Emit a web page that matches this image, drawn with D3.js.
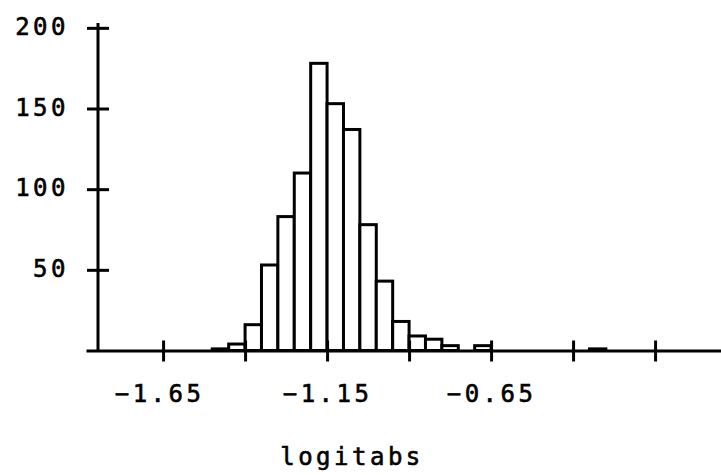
<!DOCTYPE html>
<html>
<head>
<meta charset="utf-8">
<script src="https://cdn.jsdelivr.net/npm/d3@7"></script>
<style>
  html, body { margin: 0; padding: 0; background: #fff; }
  svg { display: block; }
  text { font-family: "DejaVu Sans Mono", monospace; font-size: 24px; letter-spacing: 3.5px; fill: #000; stroke: #000; stroke-width: 0.6px; }
</style>
</head>
<body>
<svg id="chart" width="721" height="475"></svg>
<script>
// Histogram of logitabs, bin width 0.05 (bin start values)
const binStarts = [-1.5, -1.45, -1.4, -1.35, -1.3, -1.25, -1.2, -1.15, -1.1, -1.05, -1.0, -0.95,
                   -0.9, -0.85, -0.8, -0.75, -0.7, -0.65, -0.6, -0.55, -0.5, -0.45, -0.4, -0.35];
const counts    = [1, 4, 16, 53, 83, 110, 178, 153, 137, 78, 43, 18,
                   9, 7, 3, 0, 3, 0, 0, 0, 0, 0, 0, 1];
const binWidth = 0.05;
const xTicks = [-1.65, -1.4, -1.15, -0.9, -0.65, -0.4, -0.15];
const xTickLabels = [-1.65, -1.15, -0.65];
const yTicks = [0, 50, 100, 150, 200];
const yTickLabels = [50, 100, 150, 200];
const xTitle = "logitabs";

const svg = d3.select("#chart");
const x = d3.scaleLinear().domain([-1.885, 0.051]).range([86, 721]);
const y = d3.scaleLinear().domain([0, 203]).range([350.5, 23]);
const xAxisX = 98;

const bins = binStarts.map((s, i) => ({ x0: s, x1: s + binWidth, n: counts[i] })).filter(d => d.n > 0);

svg.append("g").selectAll("rect").data(bins).join("rect")
  .attr("x", d => x(d.x0))
  .attr("y", d => y(d.n))
  .attr("width", d => x(d.x1) - x(d.x0))
  .attr("height", d => y(0) - y(d.n))
  .attr("fill", "#fff")
  .attr("stroke", "#000")
  .attr("stroke-width", 3);

const fmt = d3.format(".2f");
const gx = svg.append("g").attr("transform", `translate(0,${y(0)})`)
  .call(d3.axisBottom(x).tickValues(xTicks).tickSize(11).tickSizeOuter(0)
    .tickFormat(d => xTickLabels.includes(d) ? fmt(d) : ""));
gx.select(".domain").attr("stroke-width", 3).attr("stroke", "#000");
gx.selectAll(".tick line").attr("y1", -10).attr("y2", 11).attr("stroke-width", 3);
gx.selectAll(".tick text").attr("x", d => d === -1.65 ? -4 : 0).attr("y", 51).attr("dy", null)
  .style("font-size", "24px").style("font-family", "DejaVu Sans Mono, monospace");
gx.attr("font-size", null).attr("font-family", null);

const gy = svg.append("g").attr("transform", `translate(${xAxisX},0)`)
  .call(d3.axisLeft(y).tickValues(yTicks.filter(v => v > 0)).tickSize(11).tickSizeOuter(0)
    .tickFormat(d => yTickLabels.includes(d) ? String(d) : ""));
gy.select(".domain").attr("d", `M0,${y(0)}V${y(203)}`).attr("stroke-width", 3).attr("stroke", "#000");
gy.selectAll(".tick line").attr("x1", -11).attr("x2", 11).attr("stroke-width", 3);
gy.selectAll(".tick text").attr("x", -29).attr("y", 6.5).attr("dy", null)
  .style("font-size", "24px").style("font-family", "DejaVu Sans Mono, monospace");
gy.attr("font-size", null).attr("font-family", null);

svg.append("text").attr("x", 352).attr("y", 465).attr("text-anchor", "middle").text(xTitle);
</script>
</body>
</html>
